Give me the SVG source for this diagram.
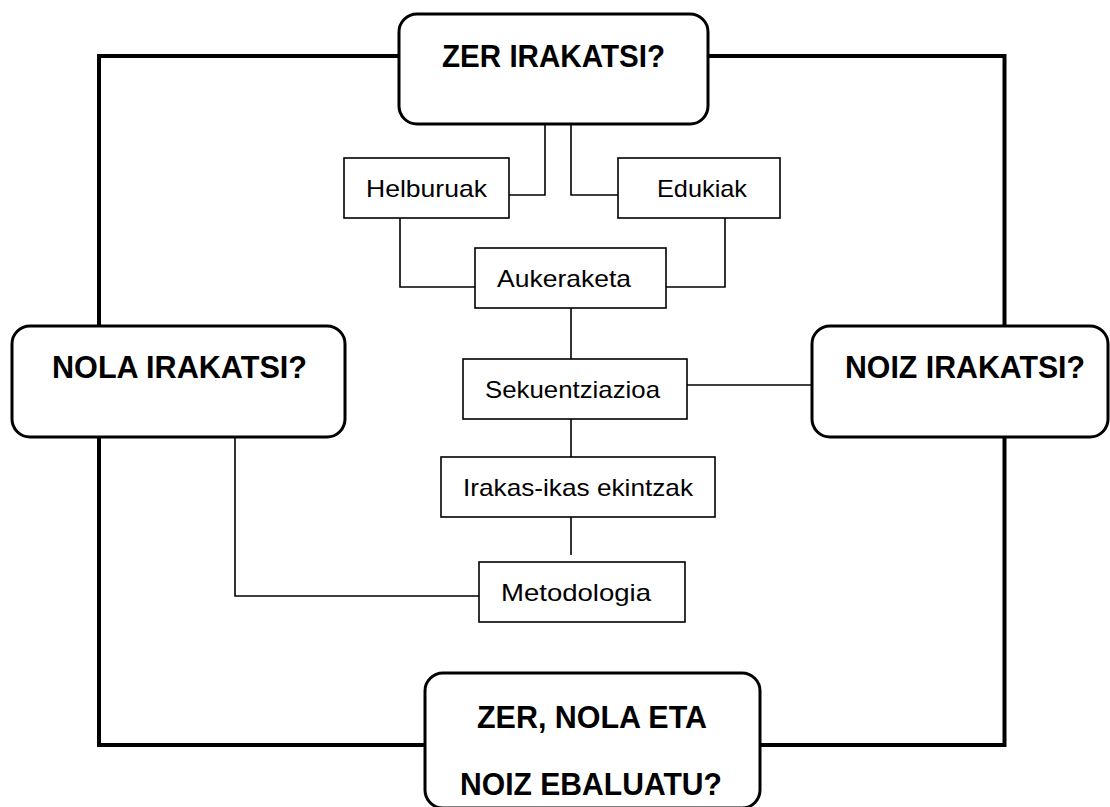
<svg xmlns="http://www.w3.org/2000/svg" width="1110" height="807" viewBox="0 0 1110 807">
<style>
.frame{fill:none;stroke:#000;stroke-width:4}
.big{fill:#fff;stroke:#000;stroke-width:3}
.small{fill:#fff;stroke:#000;stroke-width:1.6}
.conn{fill:none;stroke:#000;stroke-width:1.6}
.bt{font-family:"Liberation Sans",Arial,sans-serif;font-weight:bold;font-size:31px;fill:#000}
.st{font-family:"Liberation Sans",Arial,sans-serif;font-size:24px;fill:#000}
</style>
<rect width="1110" height="807" fill="#fff"/>
<g id="frame">
<rect class="frame" x="99" y="56" width="905.5" height="689"/>
</g>
<g id="connectors">
<polyline class="conn" points="545,124 545,195 508,195"/>
<polyline class="conn" points="571,124 571,195 618,195"/>
<polyline class="conn" points="400,218 400,287 475,287"/>
<polyline class="conn" points="725,218 725,287 666,287"/>
<line class="conn" x1="571" y1="308" x2="571" y2="359"/>
<line class="conn" x1="687" y1="385" x2="812" y2="385"/>
<line class="conn" x1="571" y1="419" x2="571" y2="457"/>
<line class="conn" x1="571" y1="517" x2="571" y2="555"/>
<polyline class="conn" points="235,437 235,596 479,596"/>
</g>
<g id="zer-irakatsi">
<rect class="big" x="399" y="14" width="309" height="110" rx="18"/>
<text class="bt" x="553.5" y="67" text-anchor="middle" textLength="223" lengthAdjust="spacingAndGlyphs">ZER IRAKATSI?</text>
</g>
<g id="nola-irakatsi">
<rect class="big" x="12" y="326" width="333" height="111" rx="18"/>
<text class="bt" x="179.5" y="378" text-anchor="middle" textLength="255" lengthAdjust="spacingAndGlyphs">NOLA IRAKATSI?</text>
</g>
<g id="noiz-irakatsi">
<rect class="big" x="812" y="326" width="296" height="111" rx="18"/>
<text class="bt" x="965" y="378" text-anchor="middle" textLength="240" lengthAdjust="spacingAndGlyphs">NOIZ IRAKATSI?</text>
</g>
<g id="ebaluatu">
<rect class="big" x="425" y="673" width="335" height="135" rx="18"/>
<text class="bt" x="592" y="728" text-anchor="middle" textLength="230" lengthAdjust="spacingAndGlyphs">ZER, NOLA ETA</text>
<text class="bt" x="591" y="795" text-anchor="middle" textLength="262" lengthAdjust="spacingAndGlyphs">NOIZ EBALUATU?</text>
</g>
<g id="helburuak">
<rect class="small" x="344" y="158" width="165" height="60"/>
<text class="st" x="426.5" y="197" text-anchor="middle" textLength="121" lengthAdjust="spacingAndGlyphs">Helburuak</text>
</g>
<g id="edukiak">
<rect class="small" x="618" y="158" width="162" height="60"/>
<text class="st" x="702" y="197" text-anchor="middle" textLength="90" lengthAdjust="spacingAndGlyphs">Edukiak</text>
</g>
<g id="aukeraketa">
<rect class="small" x="475" y="248" width="191" height="60"/>
<text class="st" x="564" y="287" text-anchor="middle" textLength="134" lengthAdjust="spacingAndGlyphs">Aukeraketa</text>
</g>
<g id="sekuentziazioa">
<rect class="small" x="463" y="359" width="224" height="60"/>
<text class="st" x="572.5" y="398" text-anchor="middle" textLength="175" lengthAdjust="spacingAndGlyphs">Sekuentziazioa</text>
</g>
<g id="irakas-ikas">
<rect class="small" x="441" y="457" width="274" height="60"/>
<text class="st" x="578" y="496" text-anchor="middle" textLength="230" lengthAdjust="spacingAndGlyphs">Irakas-ikas ekintzak</text>
</g>
<g id="metodologia">
<rect class="small" x="479" y="562" width="206" height="60"/>
<text class="st" x="576" y="601" text-anchor="middle" textLength="150" lengthAdjust="spacingAndGlyphs">Metodologia</text>
</g>
</svg>
